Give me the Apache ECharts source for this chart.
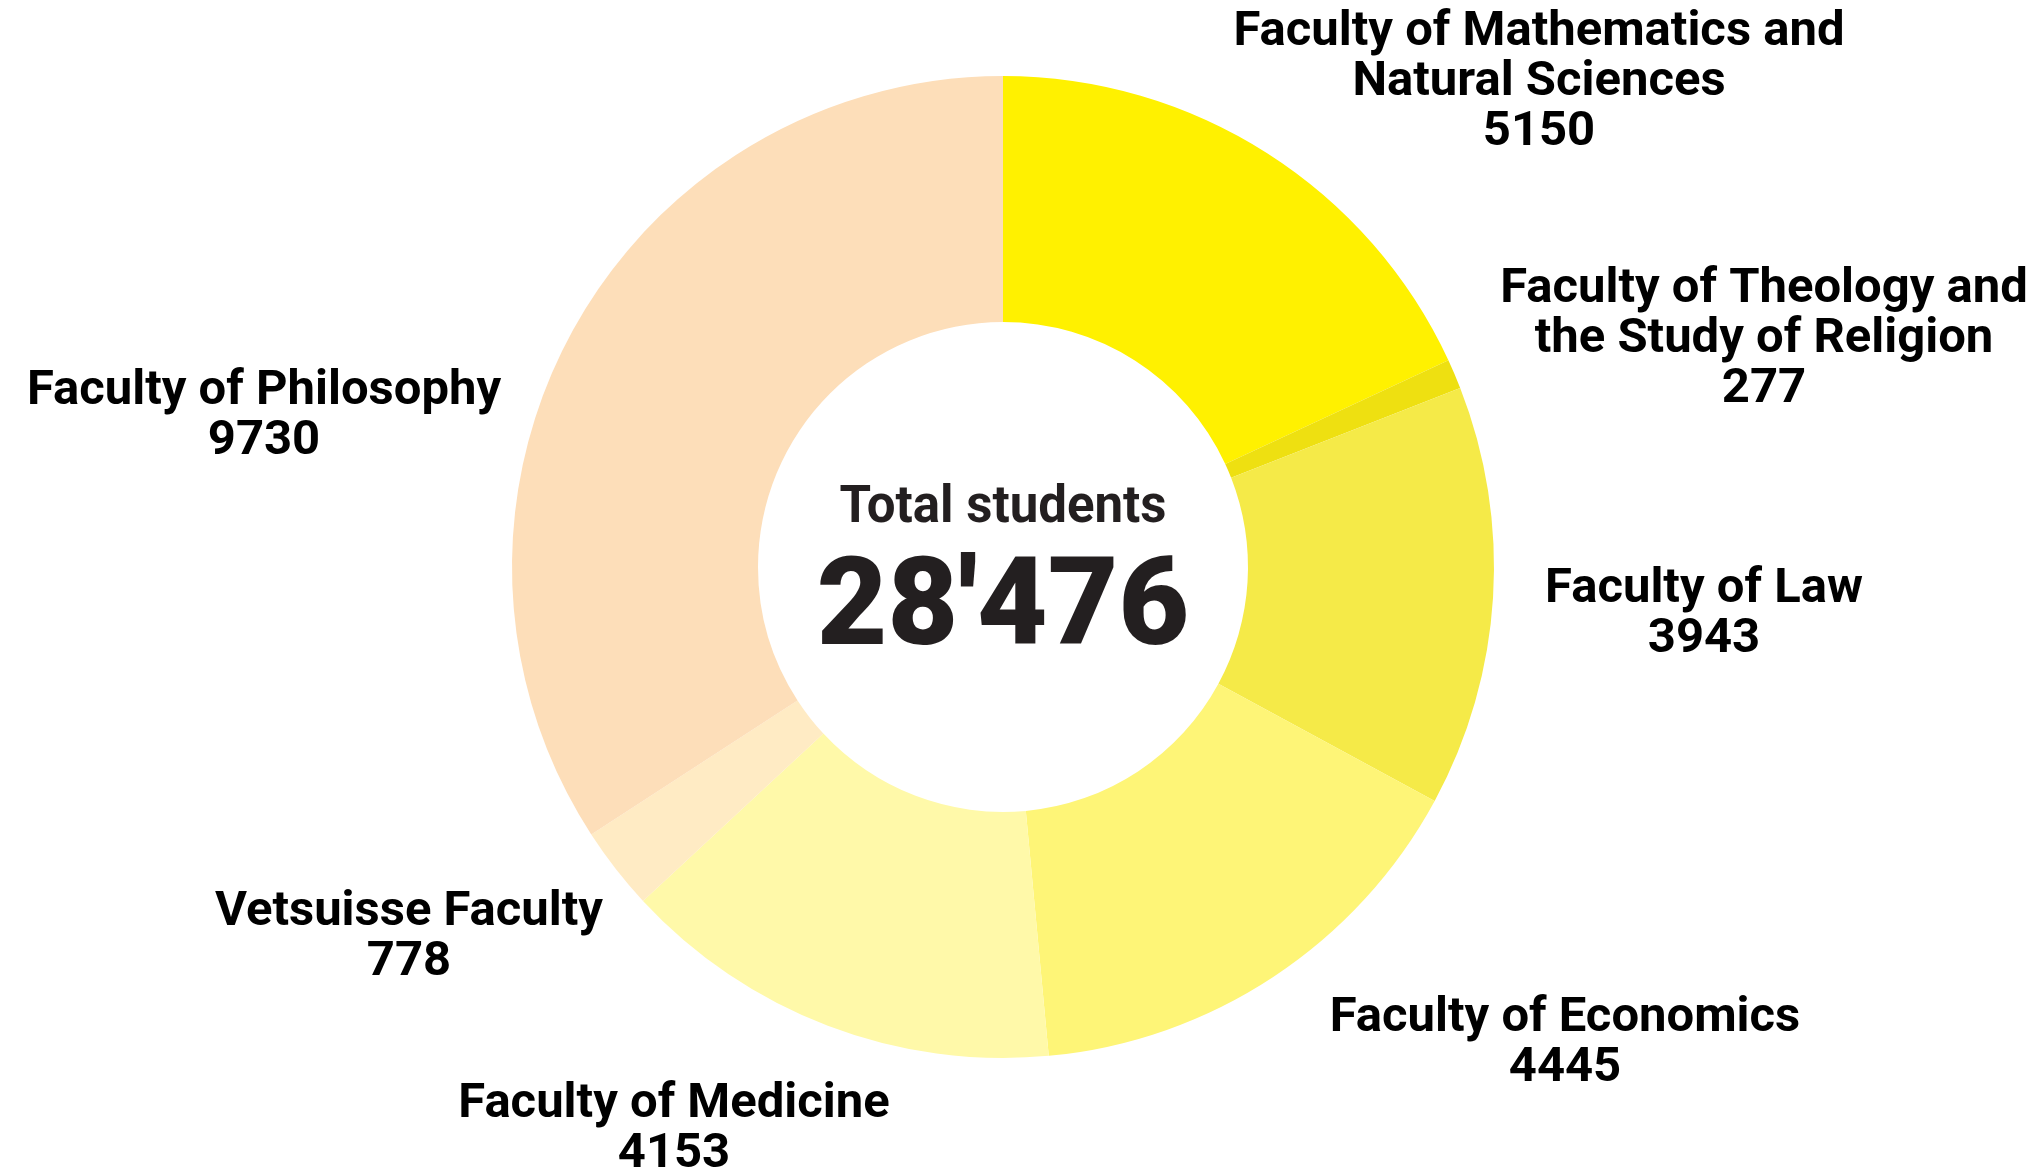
<!DOCTYPE html>
<html>
<head>
<meta charset="utf-8">
<script src="https://cdn.jsdelivr.net/npm/echarts@6/dist/echarts.min.js"></script>
<style>
  html, body { margin: 0; padding: 0; background: #fff; }
  #chart { width: 2043px; height: 1175px; }
</style>
</head>
<body>
<div id="chart"></div>
<script>
var faculties = [
  'Faculty of Mathematics and\nNatural Sciences',
  'Faculty of Theology and\nthe Study of Religion',
  'Faculty of Law',
  'Faculty of Economics',
  'Faculty of Medicine',
  'Vetsuisse Faculty',
  'Faculty of Philosophy'
];
var students = [5150, 277, 3943, 4445, 4153, 778, 9730];
var sliceColors = ['#fff100', '#eee011', '#f5ea48', '#fef577', '#fff9a9', '#ffebc4', '#fddeb9'];

// where each label block sits (center of the text block)
var labelSpots = [[1539, 83], [1764, 340], [1704, 615], [1565, 1044], [674, 1130], [409, 938], [264, 417]];

var total = students.reduce(function (a, b) { return a + b; }, 0);
var totalText = String(total).replace(/\B(?=(\d{3})+(?!\d))/g, "'");

var chart = echarts.init(document.getElementById('chart'), null, { renderer: 'canvas' });

var option = {
  animation: false,
  backgroundColor: '#fff',
  graphic: [{
    type: 'text',
    x: 1003,
    y: 509,
    style: {
      text: 'Total students',
      fontFamily: 'Roboto',
      fontWeight: 700,
      fontSize: 51,
      fill: '#231f20',
      align: 'center',
      verticalAlign: 'middle'
    }
  }, {
    type: 'text',
    x: 1003,
    y: 613,
    style: {
      text: totalText,
      fontFamily: 'Roboto',
      fontWeight: 900,
      fontSize: 122,
      fill: '#231f20',
      align: 'center',
      verticalAlign: 'middle'
    }
  }],
  series: [{
    type: 'pie',
    center: [1003, 567],
    radius: [245, 491],
    startAngle: 90,
    clockwise: true,
    avoidLabelOverlap: false,
    itemStyle: { borderWidth: 0 },
    label: {
      show: true,
      position: 'outside',
      formatter: function (p) { return p.name + '\n' + p.value; },
      fontFamily: 'Roboto',
      fontWeight: 700,
      fontSize: 49,
      lineHeight: 50,
      color: '#000',
      align: 'center'
    },
    labelLine: { show: false },
    labelLayout: function (params) {
      var s = labelSpots[params.dataIndex];
      return { x: s[0], y: s[1], align: 'center', verticalAlign: 'middle' };
    },
    emphasis: { disabled: true },
    data: faculties.map(function (n, i) {
      return { name: n, value: students[i], itemStyle: { color: sliceColors[i] } };
    })
  }]
};
chart.setOption(option);
</script>
</body>
</html>
